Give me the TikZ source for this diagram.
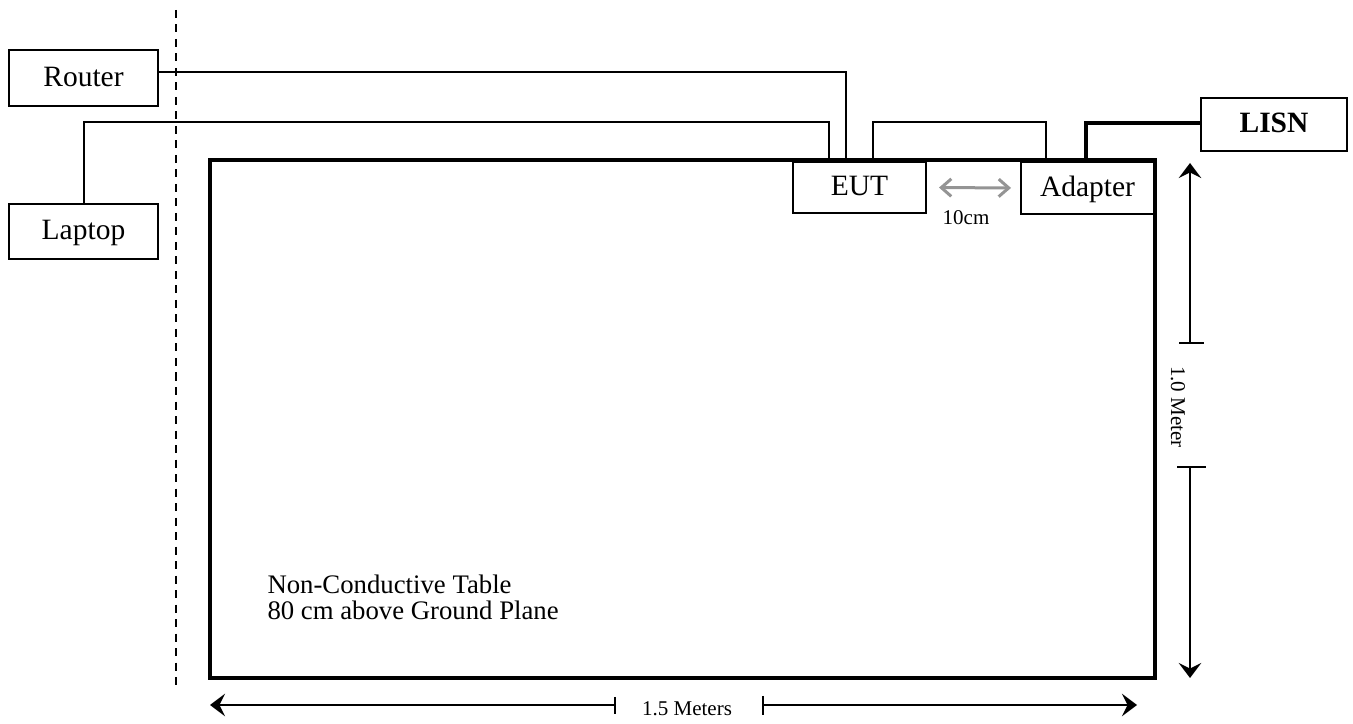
\documentclass[tikz,border=0pt]{standalone}
\usepackage{fontspec}
\setmainfont{Liberation Serif}
\usetikzlibrary{arrows.meta,calc}
\begin{document}
\begin{tikzpicture}[x=0.4pt,y=-0.4pt,
  box/.style={draw,line width=0.8pt,inner sep=0pt,text height=9.3pt,text depth=2.5pt,font=\fontsize{11.8}{14}\selectfont},
  cable/.style={line width=0.8pt},
  powercable/.style={line width=1.5pt},
  dimline/.style={line width=0.8pt},
  dimtip/.style={-{Stealth[length=6pt,width=9pt,inset=2.2pt]}},
  smalltext/.style={font=\fontsize{8.4}{10}\selectfont,inner sep=0pt},
  grayarrow/.style={draw=black!42,line width=1.2pt,{Straight Barb[length=4pt,width=7pt]}-{Straight Barb[length=4pt,width=7pt]}}
  ]
\useasboundingbox (0,0) rectangle (1353,724);
% table
\node[draw,line width=1.6pt,minimum width=378pt,minimum height=207.2pt,inner sep=0pt] (table) at (682.5,419) {};
% boxes
\node[box,minimum width=59.6pt,minimum height=22.4pt] (Router) at (83.5,78) {Router};
\node[box,minimum width=59.6pt,minimum height=22pt] (Laptop) at (83.5,231.5) {Laptop};
\node[box,fill=white,minimum width=53.2pt,minimum height=20.4pt] (EUT) at (859.5,187.5) {EUT};
\node[box,fill=white,minimum width=53.2pt,minimum height=20.8pt] (Adapter) at (1087.5,188) {Adapter};
\node[box,minimum width=58.4pt,minimum height=21.2pt,font=\fontsize{11.8}{14}\selectfont\bfseries] (LISN) at (1274,124.5) {LISN};
% dashed boundary
\coordinate (d1) at (176,10);
\coordinate (d2) at (176,688);
\draw[line width=0.8pt,dash pattern=on 3.2pt off 2.6pt] (d1) -- (d2);
% cables
\coordinate (r1) at (846,72);
\draw[cable] (Router.east |- r1) -- (r1) -- (EUT.north -| r1);
\coordinate (l1) at (84,122);
\coordinate (l2) at (829,122);
\draw[cable] (Laptop.north -| l1) -- (l1) -- (l2) -- (EUT.north -| l2);
\coordinate (e1) at (873,122);
\coordinate (e2) at (1046,122);
\draw[cable] (EUT.north -| e1) -- (e1) -- (e2) -- (Adapter.north -| e2);
\coordinate (a1) at (1086,123);
\draw[powercable] (Adapter.north -| a1) -- (a1) -- (LISN.west |- a1);
% 10 cm spacing
\draw[grayarrow,shorten <=4.8pt,shorten >=3.6pt] (EUT.east) -- (Adapter.west);
\node[smalltext] (tencm) at (966,218) {10cm};
% 1.0 meter dimension
\coordinate (v1) at (1190,163);
\coordinate (v2) at (1190,343);
\coordinate (v3) at (1190,467);
\coordinate (v4) at (1190,678);
\draw[dimline,dimtip] (v2) -- (v1);
\draw[dimline,dimtip] (v3) -- (v4);
\draw[dimline] ($(v2)+(-11,0)$) -- ($(v2)+(14,0)$);
\draw[dimline] ($(v3)+(-13,0)$) -- ($(v3)+(16,0)$);
\node[smalltext,rotate=-90] (onem) at (1178,407) {1.0 Meter};
% 1.5 meters dimension
\coordinate (h1) at (210,705);
\coordinate (h2) at (615,705);
\coordinate (h3) at (763,705);
\coordinate (h4) at (1137,705);
\draw[dimline,dimtip] (h2) -- (h1);
\draw[dimline,dimtip] (h3) -- (h4);
\draw[dimline] ($(h2)+(0,-8)$) -- ($(h2)+(0,9)$);
\draw[dimline] ($(h3)+(0,-9)$) -- ($(h3)+(0,10)$);
\node[smalltext] (onefive) at (687,709) {1.5 Meters};
% table label
\node[anchor=north west,align=left,inner sep=0pt,font=\fontsize{10.7}{10.4}\selectfont] (tlabel) at (267,574) {Non-Conductive Table\\80 cm above Ground Plane};
\end{tikzpicture}
\end{document}
